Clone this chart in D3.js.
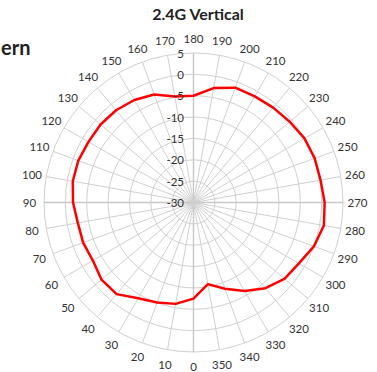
<!DOCTYPE html>
<html>
<head>
<meta charset="utf-8">
<script src="https://cdn.jsdelivr.net/npm/d3@7"></script>
<style>
  body { margin: 0; background: #fff; }
  svg { display: block; }
  text { font-family: Lato, "Liberation Sans", sans-serif; }
</style>
</head>
<body>
<div class="container"></div>
<script>
let angles = d3.range(0, 360, 10);
let gain = [
  -7.5, -5.9, -5.1, -4.1, -2.0, -1.9, -2.8, -2.5, -2.5, -1.8,
  -1.3, -1.3, -1.6, -1.6, -1.8, -2.3, -3.1, -4.8, -5.0, -2.8,
  -1.4, -1.3, -1.0, -0.6, 0.0, 0.2, 0.2, 0.7, 1.0, 0.0,
  -1.5, -2.2, -3.8, -6.1, -8.5, -10.6
];
let ringTicks = [-30, -25, -20, -15, -10, -5, 0, 5];
let title = '2.4G Vertical';
let sideText = 'ern';

let width = 377, height = 372;
let cx = 193.5, cy = 202.5, outer = 149.5;

let svg = d3.select('.container').append('svg')
  .attr('width', width).attr('height', height);

let rScale = d3.scaleLinear().domain([-30, 5]).range([0, outer]);
// 0 at bottom, clockwise
let pt = (deg, r) => {
  let a = deg * Math.PI / 180;
  return [cx - r * Math.sin(a), cy + r * Math.cos(a)];
};

svg.append('text')
  .attr('x', 198).attr('y', 20)
  .attr('text-anchor', 'middle')
  .style('font-size', '16px').style('font-weight', 'bold')
  .attr('fill', '#222')
  .text(title);

// tail of the neighbouring chart's title
svg.append('text')
  .attr('x', 1).attr('y', 55)
  .attr('text-anchor', 'start')
  .style('font-size', '20px').style('font-weight', 'bold')
  .attr('fill', '#222')
  .text(sideText);

let grid = svg.append('g');

grid.selectAll('.ring')
  .data(ringTicks.slice(1))
  .enter().append('circle')
  .attr('cx', cx).attr('cy', cy)
  .attr('r', d => rScale(d))
  .attr('fill', 'none')
  .attr('stroke', '#d0d0d0')
  .attr('stroke-width', 1);

grid.selectAll('.spoke')
  .data(angles)
  .enter().append('line')
  .attr('x1', cx).attr('y1', cy)
  .attr('x2', d => pt(d, outer)[0])
  .attr('y2', d => pt(d, outer)[1])
  .attr('stroke', d => d % 90 === 0 ? '#c8c8c8' : '#d0d0d0')
  .attr('stroke-width', d => d % 90 === 0 ? 1.5 : 1);

svg.append('g').selectAll('text')
  .data(angles)
  .enter().append('text')
  .attr('x', d => pt(d, 164)[0])
  .attr('y', d => pt(d, 164)[1])
  .attr('text-anchor', 'middle')
  .attr('dominant-baseline', 'central')
  .style('font-size', '11.5px')
  .attr('fill', '#333')
  .text(d => d);

let line = d3.line()
  .x((d, i) => pt(angles[i], rScale(d))[0])
  .y((d, i) => pt(angles[i], rScale(d))[1])
  .curve(d3.curveLinearClosed);

svg.append('path')
  .datum(gain)
  .attr('d', line)
  .attr('fill', 'none')
  .attr('stroke', '#ff0000')
  .attr('stroke-width', 2.5)
  .attr('stroke-linejoin', 'round');

svg.append('g').selectAll('text')
  .data(ringTicks)
  .enter().append('text')
  .attr('x', 184)
  .attr('y', d => cy - rScale(d))
  .attr('text-anchor', 'end')
  .attr('dominant-baseline', 'central')
  .style('font-size', '11.5px')
  .attr('fill', '#333')
  .text(d => d);
</script>
</body>
</html>
